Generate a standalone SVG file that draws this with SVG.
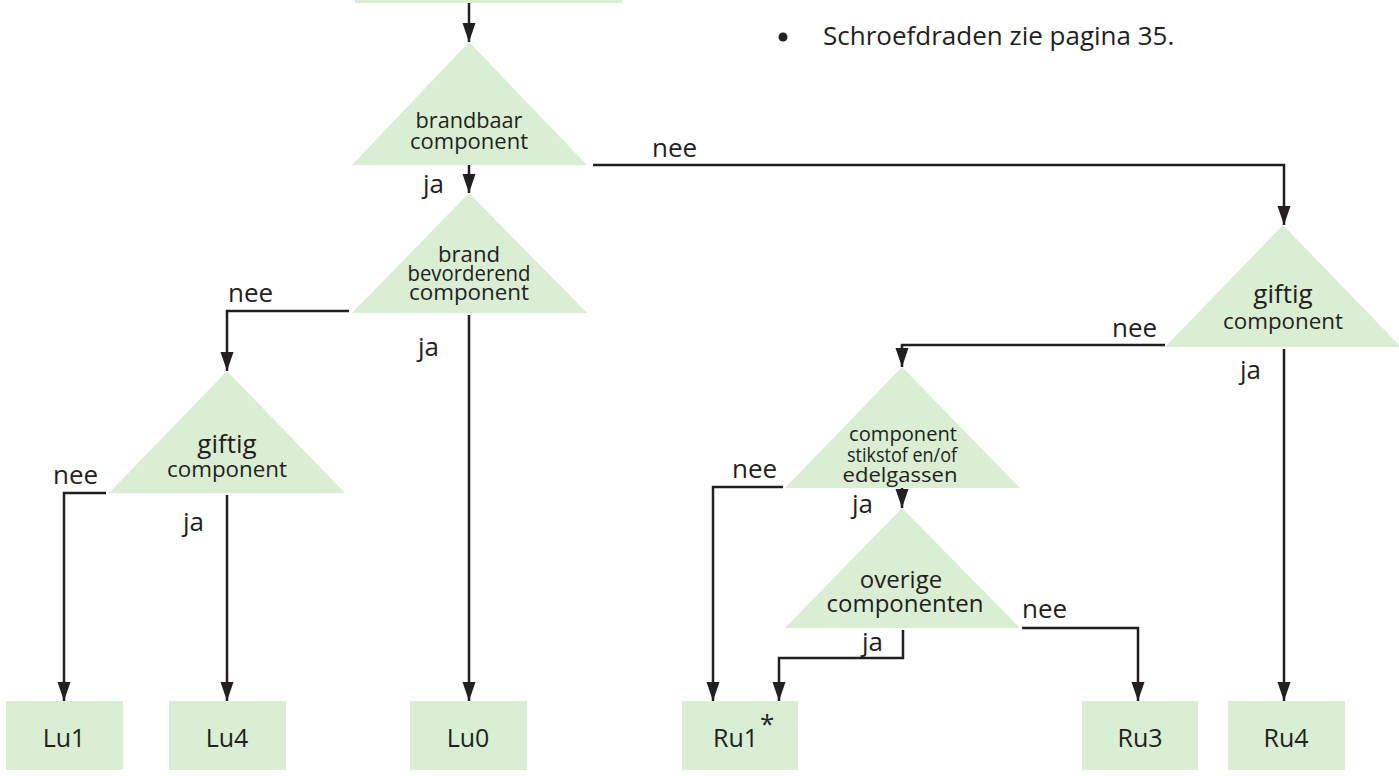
<svg xmlns="http://www.w3.org/2000/svg" width="1399" height="776" viewBox="0 0 1399 776">
<style>
.shape{fill:#daeed4;}
.t{font-family:"Open Sans","Noto Sans",sans-serif;fill:#231f20;text-anchor:middle;}
.lbl{font-family:"Open Sans","Noto Sans",sans-serif;fill:#231f20;font-size:26px;}
.box{font-size:25px;}
.tri{font-size:21px;}
.conn{fill:none;stroke:#231f20;stroke-width:2.5;marker-end:url(#ah);}
</style>
<defs>
<marker id="ah" markerUnits="userSpaceOnUse" markerWidth="20" markerHeight="14" refX="19" refY="7" orient="auto">
<path d="M0,0.5 L19,7 L0,13.5 Z" fill="#231f20"/>
</marker>
</defs>
<rect width="1399" height="776" fill="#ffffff"/>

<g id="start">
<rect class="shape" x="355" y="-40" width="267" height="43"/>
</g>

<g id="note">
<circle cx="783" cy="37" r="4.5" fill="#231f20"/>
<text class="lbl" x="823" y="45">Schroefdraden zie pagina 35.</text>
</g>

<g id="brandbaar">
<polygon class="shape" points="469,42 352,165 587,165"/>
<text class="t tri" x="469" y="128" textLength="107" lengthAdjust="spacingAndGlyphs">brandbaar</text>
<text class="t tri" x="469" y="149" textLength="118" lengthAdjust="spacingAndGlyphs">component</text>
</g>

<g id="brandbevorderend">
<polygon class="shape" points="469,193 352,313 587,313"/>
<text class="t tri" x="469" y="262" font-size="20" textLength="62" lengthAdjust="spacingAndGlyphs">brand</text>
<text class="t tri" x="469" y="281" font-size="20" textLength="123" lengthAdjust="spacingAndGlyphs">bevorderend</text>
<text class="t tri" x="469" y="300" font-size="20" textLength="120" lengthAdjust="spacingAndGlyphs">component</text>
</g>

<g id="giftig-links">
<polygon class="shape" points="227,371 109,493 345,493"/>
<text class="t" x="227" y="453" font-size="26">giftig</text>
<text class="t" x="227" y="477" font-size="21" textLength="120" lengthAdjust="spacingAndGlyphs">component</text>
</g>

<g id="giftig-rechts">
<polygon class="shape" points="1283,225 1165,347 1401,347"/>
<text class="t" x="1283" y="303" font-size="26">giftig</text>
<text class="t" x="1283" y="329" font-size="21" textLength="120" lengthAdjust="spacingAndGlyphs">component</text>
</g>

<g id="stikstof">
<polygon class="shape" points="902,367 785,488 1020,488"/>
<text class="t" x="903" y="441" font-size="20" textLength="108" lengthAdjust="spacingAndGlyphs">component</text>
<text class="t" x="902" y="462" font-size="20" textLength="110" lengthAdjust="spacingAndGlyphs">stikstof en/of</text>
<text class="t" x="900" y="482" font-size="20" textLength="115" lengthAdjust="spacingAndGlyphs">edelgassen</text>
</g>

<g id="overige">
<polygon class="shape" points="902,508 785,628 1020,628"/>
<text class="t" x="901" y="588" font-size="24">overige</text>
<text class="t" x="905" y="612" font-size="24">componenten</text>
</g>

<g id="Lu1">
<rect class="shape" x="6" y="701" width="117" height="69"/>
<text class="t box" x="64" y="747">Lu1</text>
</g>
<g id="Lu4">
<rect class="shape" x="169" y="701" width="117" height="69"/>
<text class="t box" x="227" y="747">Lu4</text>
</g>
<g id="Lu0">
<rect class="shape" x="410" y="701" width="117" height="69"/>
<text class="t box" x="468" y="747">Lu0</text>
</g>
<g id="Ru1">
<rect class="shape" x="682" y="701" width="116" height="69"/>
<text class="lbl box" x="713" y="747">Ru1</text>
<text class="lbl" x="760" y="733" font-size="24">*</text>
</g>
<g id="Ru3">
<rect class="shape" x="1082" y="701" width="116" height="69"/>
<text class="t box" x="1140" y="747">Ru3</text>
</g>
<g id="Ru4">
<rect class="shape" x="1228" y="701" width="117" height="69"/>
<text class="t box" x="1286" y="747">Ru4</text>
</g>

<g id="connectors">
<path class="conn" d="M469,3 V42"/>
<path class="conn" d="M469,165 V193"/>
<path class="conn" d="M593,165 H1284 V225"/>
<path class="conn" d="M349,311 H227 V371"/>
<path class="conn" d="M469,315 V701"/>
<path class="conn" d="M106,493 H64 V701"/>
<path class="conn" d="M227,495 V701"/>
<path class="conn" d="M1165,345 H902 V367"/>
<path class="conn" d="M1284,349 V701"/>
<path class="conn" d="M783,487 H713 V701"/>
<path class="conn" d="M902,488 V508"/>
<path class="conn" d="M903,630 V658 H779 V701"/>
<path class="conn" d="M1022,628 H1138 V701"/>
<text class="lbl" x="652" y="157">nee</text>
<text class="lbl" x="423" y="193">ja</text>
<text class="lbl" x="228" y="302">nee</text>
<text class="lbl" x="418" y="356">ja</text>
<text class="lbl" x="53" y="484">nee</text>
<text class="lbl" x="183" y="531">ja</text>
<text class="lbl" x="1112" y="337">nee</text>
<text class="lbl" x="1240" y="379">ja</text>
<text class="lbl" x="732" y="478">nee</text>
<text class="lbl" x="852" y="513">ja</text>
<text class="lbl" x="862" y="651">ja</text>
<text class="lbl" x="1022" y="618">nee</text>
</g>
</svg>
